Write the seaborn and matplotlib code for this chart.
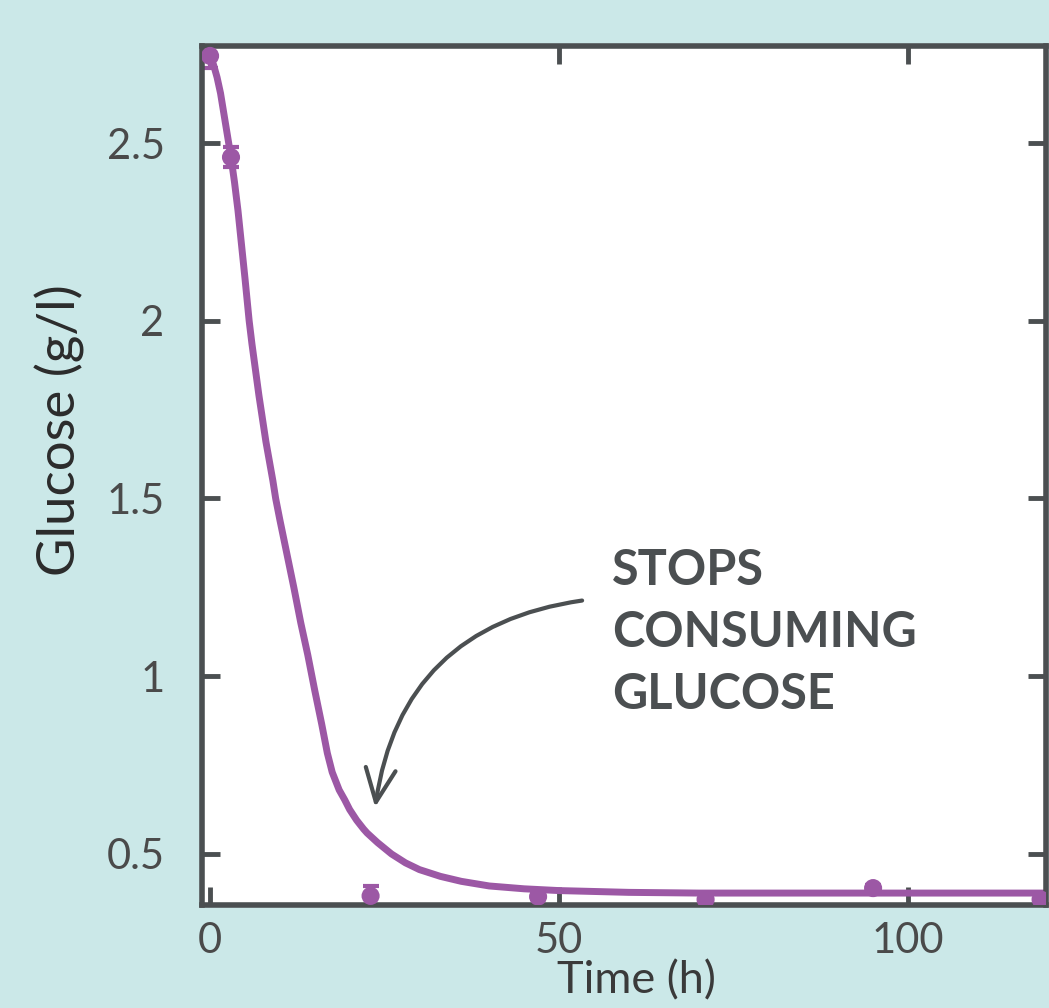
import matplotlib
matplotlib.use("Agg")
import matplotlib.pyplot as plt
import seaborn as sns
import pandas as pd

# measured glucose (g/l) with error bars
time_h = [0, 3, 23, 47, 71, 95, 119]
glucose = [2.745, 2.46, 0.382, 0.380, 0.372, 0.404, 0.372]
glucose_err = [0.035, 0.028, 0.028, 0.008, 0.006, 0.008, 0.006]

# model fit curve
fit_time = [0, 0.5, 1, 1.5, 2, 2.5, 3, 3.5, 4, 5, 5.6, 6, 7, 8, 9, 9.4, 10,
            11, 12, 13, 14, 14.6, 15, 16, 16.8, 17.5, 18.5, 19.3, 20, 21, 22,
            22.5, 24, 26, 28, 30, 33, 36, 40, 45, 50, 60, 70, 90, 120]
fit_glucose = [2.742, 2.72, 2.685, 2.64, 2.58, 2.52, 2.46, 2.39, 2.31, 2.12,
               2.0, 1.935, 1.79, 1.66, 1.55, 1.5, 1.44, 1.345, 1.25, 1.15,
               1.06, 1.0, 0.96, 0.865, 0.784, 0.73, 0.68, 0.652, 0.625, 0.595,
               0.57, 0.559, 0.532, 0.5, 0.475, 0.456, 0.437, 0.423, 0.41,
               0.402, 0.397, 0.392, 0.39, 0.39, 0.39]

x_ticks = [0, 50, 100]
y_ticks = [0.5, 1, 1.5, 2, 2.5]
y_labels = ["0.5", "1", "1.5", "2", "2.5"]
note = "STOPS\nCONSUMING\nGLUCOSE"

bg = "#cbe8e8"
purple = "#9c58a5"
dark = "#4b4f51"

sns.set_theme(style="ticks")
plt.rcParams["font.family"] = ["Lato", "DejaVu Sans"]

meas = pd.DataFrame({"time": time_h, "glucose": glucose, "err": glucose_err})
fit = pd.DataFrame({"time": fit_time, "glucose": fit_glucose})

fig = plt.figure(figsize=(10.49, 10.08), dpi=100, facecolor=bg)
ax = fig.add_axes([0.1926, 0.1022, 0.8045, 0.8522])
ax.set_facecolor("white")

sns.lineplot(data=fit, x="time", y="glucose", sort=False, color=purple,
             lw=5, ax=ax)
ax.errorbar(meas["time"], meas["glucose"], yerr=meas["err"], fmt="none",
            ecolor=purple, elinewidth=3, capsize=6, capthick=3)
sns.scatterplot(data=meas, x="time", y="glucose", color=purple, s=170,
                edgecolor="none", ax=ax, zorder=3)

ax.annotate("", xy=(23.6, 0.624), xytext=(53.7, 1.214),
            arrowprops=dict(arrowstyle="->,head_length=2.0,head_width=0.9",
                            connectionstyle="arc3,rad=0.38", color=dark, lw=3))
ax.text(57.6, 1.36, note, va="top", ha="left", fontsize=35,
        fontweight="bold", color=dark, linespacing=1.45)

ax.set_xlim(-1.15, 119.77)
ax.set_ylim(0.3565, 2.773)
ax.set_xticks(x_ticks)
ax.set_yticks(y_ticks)
ax.set_yticklabels(y_labels)

for side in ["left", "right", "top", "bottom"]:
    ax.spines[side].set_visible(True)
    ax.spines[side].set_linewidth(4)
    ax.spines[side].set_color(dark)

ax.tick_params(direction="in", length=13, width=3.5, top=True, right=True,
               color=dark, labelcolor="#4a4a4a", labelsize=30)
ax.tick_params(axis="y", pad=27)
ax.tick_params(axis="x", pad=12)

ax.set_xlabel("Time (h)", fontsize=32.5, color="#3a3a3a")
ax.set_ylabel("Glucose (g/l)", fontsize=38, color="#2b2b2b")
ax.xaxis.set_label_coords(0.515, -0.064)
ax.yaxis.set_label_coords(-0.139, 0.553)

plt.savefig("out.png", dpi=100, facecolor=bg)
plt.close()
